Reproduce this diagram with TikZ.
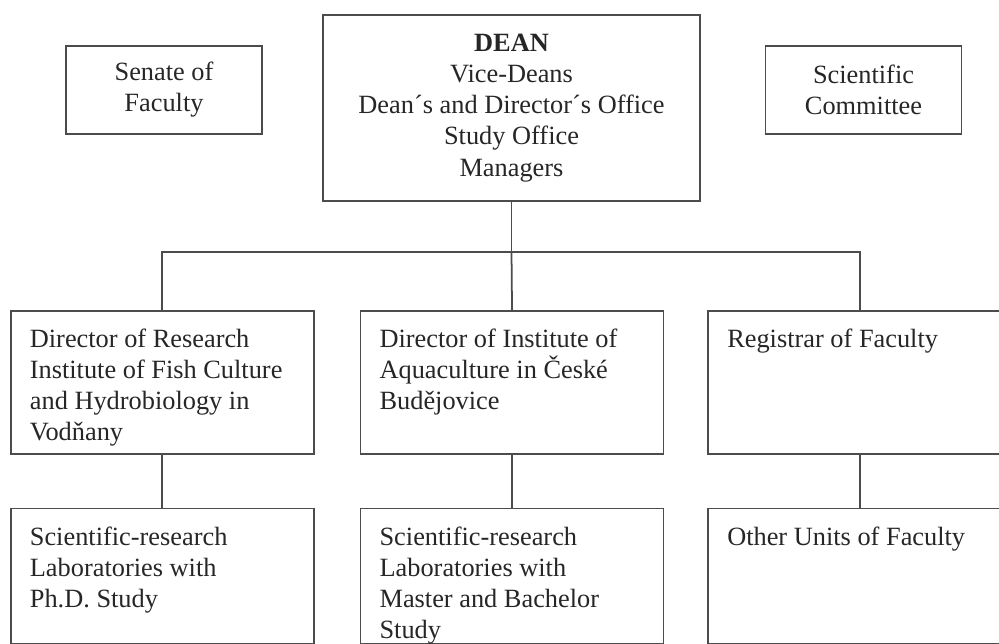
\documentclass[tikz,border=0pt]{standalone}
\usepackage{fontspec}
\setmainfont{Liberation Serif}
\usepackage{tikz}
\usetikzlibrary{positioning}

\newcommand{\boxtext}[3]{\parbox[t][#1][t]{#2}{\raggedright #3}}

\begin{document}
\begin{tikzpicture}[x=0.02cm, y=-0.02cm, font=\fontsize{15}{17.7}\selectfont,
    side/.style={draw=black!70, line width=1pt, text=black!85, align=center, minimum width=3.92cm, minimum height=1.76cm},
    head/.style={draw=black!70, line width=1pt, text=black!85, align=center, minimum width=7.54cm, minimum height=3.72cm},
    unit/.style={draw=black!70, line width=1pt, text=black!85, anchor=north west, inner xsep=0.38cm, inner ysep=0.36cm},
    link/.style={draw=black!70, line width=1pt}]
  \useasboundingbox (0,0) rectangle (999,644);
  \clip (0,0) rectangle (999,644);
  % faculty management on top
  \node[head] (dean) at (511.5,108) {\textbf{DEAN}\\Vice-Deans\\Dean´s and Director´s Office\\Study Office\\Managers};
  \node[side] (senate) at (164,90) {Senate of\\Faculty};
  \node[side] (committee) at (863.5,90) {Scientific\\Committee};
  % institutes and registrar
  \node[unit] (vodnany) at (10,310) {\boxtext{2.14cm}{5.3cm}{Director of Research\\Institute of Fish Culture\\and Hydrobiology in\\Vodňany}};
  \node[unit, right=0.9cm of vodnany] (budejovice) {\boxtext{2.14cm}{5.3cm}{Director of Institute of\\Aquaculture in České\\Budějovice}};
  \node[unit, right=0.86cm of budejovice] (registrar) {\boxtext{2.14cm}{5.3cm}{Registrar of Faculty}};
  % laboratories and other units
  \node[unit, below=1.06cm of vodnany] (phdlabs) {\boxtext{1.98cm}{5.3cm}{Scientific-research\\Laboratories with\\Ph.D. Study}};
  \node[unit, below=1.06cm of budejovice] (masterlabs) {\boxtext{1.98cm}{5.3cm}{Scientific-research\\Laboratories with\\Master and Bachelor\\Study}};
  \node[unit, below=1.06cm of registrar] (otherunits) {\boxtext{1.98cm}{5.3cm}{Other Units of Faculty}};
  % connectors
  \coordinate (fork) at (511.5,252);
  \draw[link] (dean) -- (fork);
  \draw[link] (fork) -| (vodnany.north);
  \draw[link] (fork) -| (registrar.north);
  \draw[link] (fork) -- (budejovice.north);
  \draw[link] (vodnany) -- (phdlabs);
  \draw[link] (budejovice) -- (masterlabs);
  \draw[link] (registrar) -- (otherunits);
\end{tikzpicture}
\end{document}
